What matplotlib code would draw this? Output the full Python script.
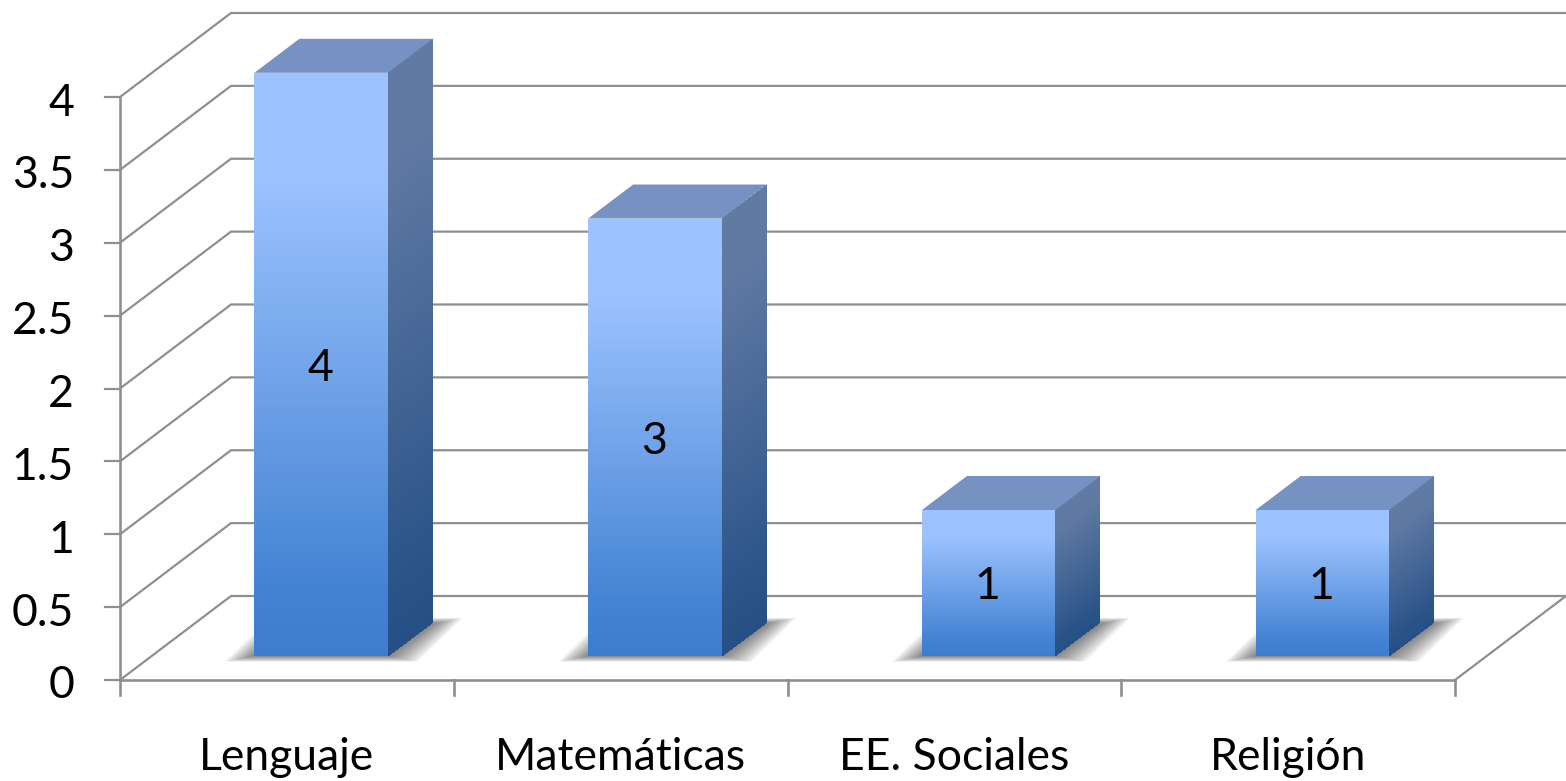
import numpy as np
import matplotlib
matplotlib.use("Agg")
import matplotlib.pyplot as plt
from matplotlib.colors import LinearSegmentedColormap
from matplotlib.patches import Polygon

categories = ["Lenguaje", "Matemáticas", "EE. Sociales", "Religión"]
values = [4, 3, 1, 1]
y_ticks = [0, 0.5, 1, 1.5, 2, 2.5, 3, 3.5, 4]
y_tick_labels = ["0", "0.5", "1", "1.5", "2", "2.5", "3", "3.5", "4"]

W, H = 1566, 781
PX_X = 333.75      # pixels per category
PX_Y = 145.75      # pixels per value unit
X0, Y0 = 120, 680  # pixel of the front origin
DEPTH_X = 111 / PX_X
DEPTH_Y = 84 / PX_Y
BAR_W = 0.4
D_FRONT, D_BACK = 0.3, 0.705
BAR_NUDGE_X, BAR_NUDGE_Y = 1 / PX_X, -1 / PX_Y
GRID = "#8f8f8f"
FS = 32

plt.rcParams["font.family"] = ["Lato", "DejaVu Sans"]
fig = plt.figure(figsize=(W / 100, H / 100), dpi=100, facecolor="white")
ax = fig.add_axes([0, 0, 1, 1])
ax.set_xlim(-X0 / PX_X, (W - X0) / PX_X)
ax.set_ylim((Y0 - H) / PX_Y, Y0 / PX_Y)
ax.axis("off")


def proj(x, v, d=0.0):
    return x + d * DEPTH_X, v + d * DEPTH_Y


n_cat = len(categories)
lw = 1.6
# walls and gridlines
for t in y_ticks:
    xa, ya = proj(0, t, 0)
    xb, yb = proj(0, t, 1)
    xc, yc = proj(n_cat, t, 1)
    ax.plot([xa, xb, xc], [ya, yb, yc], color=GRID, lw=lw, solid_joinstyle="miter", zorder=1)
    ax.plot([xa - 15 / PX_X, xa], [ya, ya], color=GRID, lw=lw, zorder=1)
ax.plot([0, 0], [0, y_ticks[-1]], color=GRID, lw=lw + 0.3, zorder=1)
ax.plot([0, n_cat], [0, 0], color=GRID, lw=lw + 0.3, zorder=1)
xr, yr = proj(n_cat, 0, 1)
ax.plot([n_cat, xr], [0, yr], color=GRID, lw=lw, zorder=1)
for i in range(n_cat + 1):
    ax.plot([i, i], [0, -15 / PX_Y], color=GRID, lw=lw + 0.3, zorder=1)

front_cm = LinearSegmentedColormap.from_list(
    "front", [(0, "#3C7DCE"), (0.12, "#4483D3"), (0.82, "#9BC2FE"), (1, "#9DC3FF")])
side_cm = LinearSegmentedColormap.from_list(
    "side", [(0, "#264F85"), (0.1, "#2A5388"), (0.85, "#5F79A3"), (1, "#617AA4")])

N = 120
for i, v in enumerate(values):
    x1f, base = proj(i + 0.5 - BAR_W / 2, 0, D_FRONT)
    x1f += BAR_NUDGE_X
    base += BAR_NUDGE_Y
    x2f = x1f + BAR_W
    shift = (D_BACK - D_FRONT) * DEPTH_X
    rise = (D_BACK - D_FRONT) * DEPTH_Y

    # soft floor shadow: stacked parallelograms fading outwards
    layers = 22
    for k in range(layers):
        g = 1 - k / (layers - 1)
        ex = g * 30 / PX_X
        ey = g * 6 / PX_Y
        poly = [
            (x1f - ex, base - ey),
            (x2f + ex, base - ey),
            (x2f + shift + ex, base + rise + ey - 2 / PX_Y),
            (x1f + shift - ex, base + rise + ey - 2 / PX_Y),
        ]
        ax.add_patch(Polygon(poly, closed=True, fc="#303030", ec="none", alpha=0.035, zorder=2))

    ys = np.linspace(0, v, N + 1)
    grad = (np.arange(N) + 0.5) / N

    # front face
    X, Y = np.meshgrid([x1f, x2f], base + ys)
    ax.pcolormesh(X, Y, grad[:, None], cmap=front_cm, vmin=0, vmax=1,
                  shading="flat", zorder=3, antialiased=False, linewidth=0)

    # side face
    X = np.column_stack([np.full(N + 1, x2f), np.full(N + 1, x2f + shift)])
    Y = np.column_stack([base + ys, base + ys + rise])
    ax.pcolormesh(X, Y, grad[:, None], cmap=side_cm, vmin=0, vmax=1,
                  shading="flat", zorder=3, antialiased=False, linewidth=0)

    # top face
    ax.add_patch(Polygon([(x1f, base + v), (x2f, base + v),
                          (x2f + shift, base + v + rise), (x1f + shift, base + v + rise)],
                         closed=True, fc="#7692C2", ec="none", zorder=3))

    ax.text((x1f + x2f) / 2 - 1 / PX_X, base + v / 2 - 4 / PX_Y, str(v), ha="center", va="center",
            fontsize=FS, color="black", zorder=5)

# tick labels
for t, lab in zip(y_ticks, y_tick_labels):
    ax.text(-46 / PX_X, t - 6 / PX_Y, lab, ha="right", va="center", fontsize=FS, color="black")
for i, c in enumerate(categories):
    ax.text(i + 0.5, -78 / PX_Y, c, ha="center", va="center", fontsize=FS, color="black")

fig.savefig("out.png", dpi=100, facecolor="white")
